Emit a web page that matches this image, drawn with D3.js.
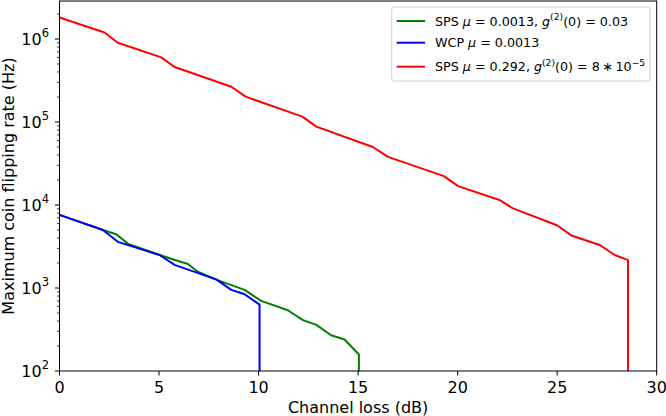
<!DOCTYPE html>
<html><head><meta charset="utf-8">
<script src="https://cdn.jsdelivr.net/npm/d3@7"></script>
<style>body{margin:0;background:#fff}svg{display:block}text{font-family:"DejaVu Sans",sans-serif}</style>
</head><body><svg id="c" width="666" height="416"></svg>
<script>
// Channel loss (dB) and rates (Hz)
const redX   = [0, 2.26, 2.93, 5.11, 5.78, 8.63, 9.35, 12.2, 12.9, 15.74, 16.5, 19.31, 20.02, 22.1, 22.78, 24.99, 25.71, 27.14, 27.89, 28.56, 28.56];
const redY   = [1.82e6, 1.2e6, 9.0e5, 6.0e5, 4.6e5, 2.66e5, 2.02e5, 1.16e5, 8.8e4, 5.0e4, 3.8e4, 2.23e4, 1.69e4, 1.15e4, 9.1e3, 5.7e3, 4.3e3, 3.3e3, 2.5e3, 2.17e3, 1];
const blueX  = [0, 2.18, 2.93, 5.03, 5.78, 7.87, 8.63, 9.3, 10.05, 10.05];
const blueY  = [7.6e3, 5.0e3, 3.6e3, 2.5e3, 1.9e3, 1.27e3, 950, 840, 630, 1];
const greenX = [0, 2.18, 2.85, 3.45, 5.03, 5.69, 6.45, 6.95, 7.87, 9.3, 10.13, 11.47, 12.23, 12.9, 13.65, 14.32, 15.04, 15.04];
const greenY = [7.6e3, 5.0e3, 4.45e3, 3.4e3, 2.5e3, 2.22e3, 1.95e3, 1.57e3, 1.26e3, 950, 700, 540, 410, 360, 270, 240, 158, 1];
const xTicks = [0, 5, 10, 15, 20, 25, 30];
const yTickExp = [2, 3, 4, 5, 6];
const seriesNames = ["green", "blue", "red"];

const svg = d3.select("#c");
const L = 59.5, R = 656.7, T = 1, B = 371;
const x = d3.scaleLinear().domain([0, 30]).range([L, R]);
const y = d3.scaleLog().domain([1e2, Math.pow(10, 6.458)]).range([B, T]);

svg.append("defs").append("clipPath").attr("id","clip")
  .append("rect").attr("x",L).attr("y",T).attr("width",R-L).attr("height",B-T);

// minor y ticks
const minor = [];
for (let e = 2; e <= 6; e++) for (let m = 2; m <= 9; m++) { const v = m*Math.pow(10,e); if (v <= y.domain()[1]) minor.push(v); }
svg.append("g").selectAll("line").data(minor).join("line")
  .attr("x1", L-2.5).attr("x2", L).attr("y1", d=>y(d)).attr("y2", d=>y(d))
  .attr("stroke","#000").attr("stroke-width",0.8);

// major y ticks
const yt = svg.append("g");
yt.selectAll("line").data(yTickExp).join("line")
  .attr("x1", L-4.5).attr("x2", L).attr("y1", d=>y(Math.pow(10,d))).attr("y2", d=>y(Math.pow(10,d)))
  .attr("stroke","#000").attr("stroke-width",1);
const ytl = yt.selectAll("text").data(yTickExp).join("text")
  .attr("x", 49).attr("y", d=>y(Math.pow(10,d))+5.8).attr("text-anchor","end")
  .attr("font-size",16).attr("fill","#000");
ytl.append("tspan").text("10");
ytl.append("tspan").attr("font-size",11.5).attr("dy",-7.5).text(d=>d);

// x ticks
const xt = svg.append("g");
xt.selectAll("line").data(xTicks).join("line")
  .attr("x1", d=>x(d)).attr("x2", d=>x(d)).attr("y1", B).attr("y2", B+4.5)
  .attr("stroke","#000").attr("stroke-width",1);
xt.selectAll("text").data(xTicks).join("text")
  .attr("x", d=>x(d)).attr("y", B+21.5).attr("text-anchor","middle")
  .attr("font-size",16).attr("fill","#000").text(d=>d);

// lines
const colors = {green:"#008000", blue:"#0000ff", red:"#ff0000"};
const dataSets = {green: d3.zip(greenX, greenY), blue: d3.zip(blueX, blueY), red: d3.zip(redX, redY)};
const line = d3.line().x(d=>x(d[0])).y(d=>y(Math.max(d[1], 1e1)));
const g = svg.append("g").attr("clip-path","url(#clip)");
seriesNames.forEach(s => {
  g.append("path").datum(dataSets[s]).attr("d", line)
   .attr("fill","none").attr("stroke",colors[s]).attr("stroke-width",2).attr("stroke-linejoin","round");
});

// frame
svg.append("rect").attr("x",L).attr("y",T).attr("width",R-L).attr("height",B-T)
  .attr("fill","none").attr("stroke","#000").attr("stroke-width",1);

// axis labels
svg.append("text").attr("x",(L+R)/2).attr("y",412.5).attr("text-anchor","middle")
  .attr("font-size",16).text("Channel loss (dB)");
svg.append("text").attr("transform",`translate(13.8,${(T+B)/2}) rotate(-90)`).attr("text-anchor","middle")
  .attr("font-size",16).text("Maximum coin flipping rate (Hz)");

// legend
const lg = svg.append("g");
lg.append("rect").attr("x",391.7).attr("y",7).attr("width",258.3).attr("height",74).attr("rx",3)
  .attr("fill","#fff").attr("fill-opacity",0.8).attr("stroke","#d0d0d0").attr("stroke-width",1);
const rowsY = [21, 42.7, 66.7];
seriesNames.forEach((s,i) => {
  lg.append("line").attr("x1",396.7).attr("x2",425).attr("y1",rowsY[i]).attr("y2",rowsY[i])
    .attr("stroke",colors[s]).attr("stroke-width",2);
});
function legText(i, parts) {
  const t = lg.append("text").attr("x",435).attr("y",rowsY[i]+4.6).attr("font-size",12.7).attr("fill","#000");
  parts.forEach(p => {
    const ts = t.append("tspan").text(p.t);
    if (p.i) ts.attr("font-style","italic");
    if (p.sup) ts.attr("font-size",9.2).attr("dy",-5.5);
    if (p.down) ts.attr("dy",5.5);
  });
}
legText(0, [{t:"SPS "},{t:"μ",i:1},{t:" = 0.0013, "},{t:"g",i:1},{t:"(2)",sup:1},{t:"(0) = 0.03",down:1}]);
legText(1, [{t:"WCP "},{t:"μ",i:1},{t:" = 0.0013"}]);
legText(2, [{t:"SPS "},{t:"μ",i:1},{t:" = 0.292, "},{t:"g",i:1},{t:"(2)",sup:1},{t:"(0) = 8\u2009∗\u200910",down:1},{t:"−5",sup:1}]);
</script></body></html>
